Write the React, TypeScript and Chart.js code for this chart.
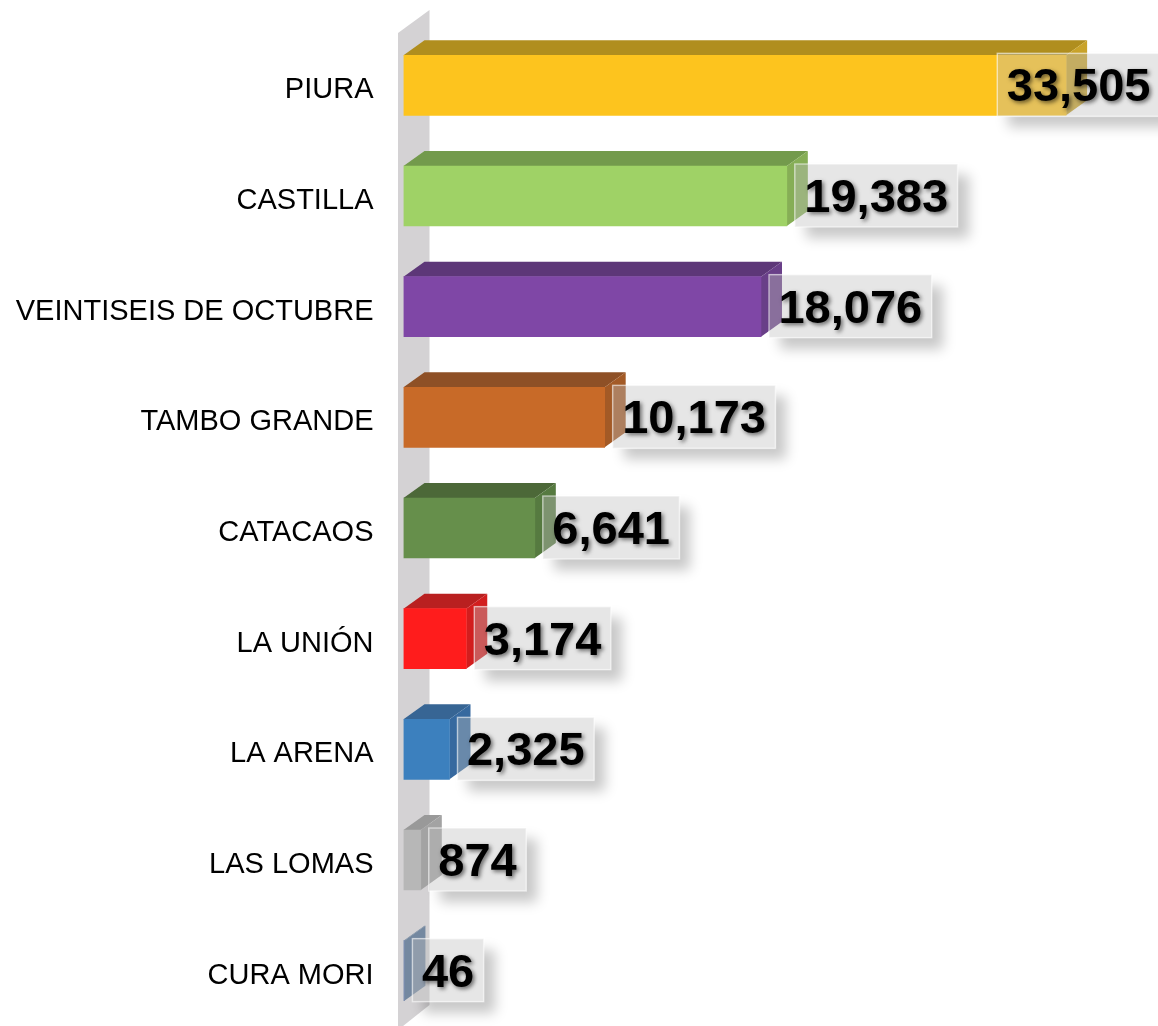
import React, { useEffect, useRef } from "react";
import { Chart, registerables } from "chart.js";

Chart.register(...registerables);

const categories = ["PIURA", "CASTILLA", "VEINTISEIS DE OCTUBRE", "TAMBO GRANDE", "CATACAOS", "LA UNIÓN", "LA ARENA", "LAS LOMAS", "CURA MORI"];
const poblacion = [33505, 19383, 18076, 10173, 6641, 3174, 2325, 874, 46];
const frontColors = ["#FDC41E", "#9FD266", "#7F47A6", "#C86A28", "#668F4B", "#FF1C1C", "#3C80BE", "#B7B7B7", "#6E83A8"];
const topColors = ["#B08E1E", "#739A4C", "#5D3778", "#8E5026", "#4C6838", "#B92020", "#376594", "#999999", "#7488A0"];
const sideColors = ["#C9A32A", "#86AE56", "#693F88", "#A35A26", "#567A40", "#D21E1E", "#36699F", "#A3A3A3", "#7488A0"];

const DX = 21;
const DY = 15;

function poly(ctx: CanvasRenderingContext2D, pts: number[][], fill: string) {
  ctx.beginPath();
  pts.forEach((p, i) => (i ? ctx.lineTo(p[0], p[1]) : ctx.moveTo(p[0], p[1])));
  ctx.closePath();
  ctx.fillStyle = fill;
  ctx.fill();
}

const wallPlugin = {
  id: "wall3d",
  beforeDatasetsDraw(chart: any) {
    const ctx = chart.ctx as CanvasRenderingContext2D;
    const left = chart.chartArea.left;
    ctx.save();
    poly(ctx, [[left - 5.5, 33], [left + 26, 10], [left + 26, 1005], [left - 5.5, 1030]], "#D4D2D4");
    ctx.restore();
    const meta = chart.getDatasetMeta(0);
    meta.data.forEach((el: any, i: number) => {
      const top = el.y - el.height / 2;
      const bot = el.y + el.height / 2;
      ctx.save();
      poly(ctx, [[left, top], [left + DX, top - DY], [el.x + DX, top - DY], [el.x, top]], topColors[i]);
      poly(ctx, [[el.x, top], [el.x + DX, top - DY], [el.x + DX, bot - DY], [el.x, bot]], sideColors[i]);
      ctx.restore();
    });
  },
};

const labelPlugin = {
  id: "valueBoxes",
  afterDatasetsDraw(chart: any) {
    const ctx = chart.ctx as CanvasRenderingContext2D;
    const meta = chart.getDatasetMeta(0);
    meta.data.forEach((el: any, i: number) => {
      const text = poblacion[i].toLocaleString("en-US");
      ctx.save();
      ctx.font = 'bold 47px "Liberation Sans", Arial, sans-serif';
      const tw = ctx.measureText(text).width;
      const w = tw + 19;
      const h = 63;
      const x = Math.min(el.x + 8, 1160 - w);
      const y = el.y - 32;

      ctx.save();
      const clip = new Path2D();
      clip.rect(0, 0, chart.width, chart.height);
      clip.rect(x, y, w, h);
      ctx.clip(clip, "evenodd");
      ctx.shadowColor = "rgba(0,0,0,0.22)";
      ctx.shadowBlur = 12;
      ctx.shadowOffsetX = 11;
      ctx.shadowOffsetY = 11;
      ctx.fillStyle = "#ffffff";
      ctx.fillRect(x, y, w, h);
      ctx.restore();

      ctx.fillStyle = "rgba(190,190,190,0.38)";
      ctx.fillRect(x, y, w, h);
      ctx.strokeStyle = "rgba(255,255,255,0.5)";
      ctx.lineWidth = 1.5;
      ctx.strokeRect(x, y, w, h);

      ctx.shadowColor = "rgba(0,0,0,0.55)";
      ctx.shadowBlur = 4;
      ctx.shadowOffsetX = 2;
      ctx.shadowOffsetY = 2;
      ctx.fillStyle = "#000000";
      ctx.textAlign = "left";
      ctx.textBaseline = "middle";
      ctx.fillText(text, x + 9.5, y + h / 2 + 3.5);
      ctx.restore();
    });
  },
};

export default function App() {
  const ref = useRef<HTMLCanvasElement>(null);
  useEffect(() => {
    document.body.style.margin = "0";
    document.body.style.background = "#ffffff";
    const chart = new Chart(ref.current as HTMLCanvasElement, {
      type: "bar",
      data: {
        labels: categories,
        datasets: [
          {
            data: poblacion,
            backgroundColor: frontColors,
            borderWidth: 0,
            barThickness: 60,
          },
        ],
      },
      options: {
        indexAxis: "y",
        responsive: false,
        animation: false,
        layout: { padding: { top: 30, right: 3, bottom: 0, left: 0 } },
        plugins: { legend: { display: false }, tooltip: { enabled: false } },
        scales: {
          x: { display: false, min: 0, max: 38000 },
          y: {
            afterFit(scale: any) {
              scale.width = 403.5;
              scale.paddingTop = 0;
              scale.paddingBottom = 0;
            },
            grid: { display: false },
            border: { display: false },
            ticks: {
              color: "#000000",
              padding: 22,
              labelOffset: 5,
              autoSkip: false,
              font: { family: '"Liberation Sans", Arial, sans-serif', size: 29 },
            },
          },
        },
      },
      plugins: [wallPlugin, labelPlugin],
    } as any);
    return () => chart.destroy();
  }, []);
  return <canvas ref={ref} width={1158} height={1026} style={{ display: "block" }} />;
}
